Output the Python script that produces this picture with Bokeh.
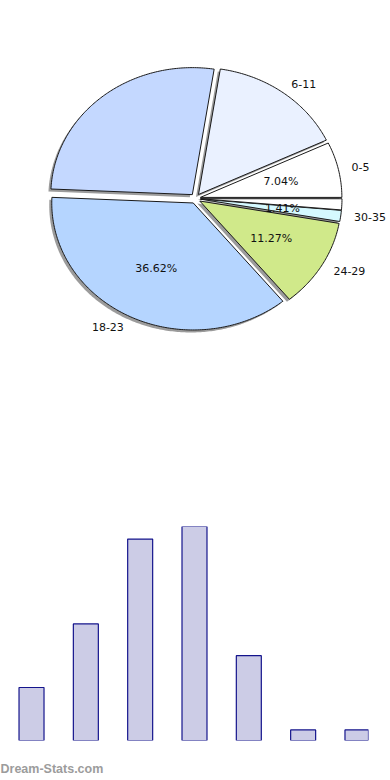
import numpy as np
from bokeh.plotting import figure
from bokeh.models import Range1d, Title, ColumnDataSource
from bokeh.embed import file_html
from bokeh.resources import INLINE
from bokeh.core.properties import value

# ---- data ----
categories = ["0-5", "6-11", "12-17", "18-23", "24-29", "30-35", "36-41"]
counts = [5, 11, 19, 26, 8, 1, 1]
slice_colors = ["#ffffff", "#eaf1ff", "#c4d8ff", "#b5d5ff", "#d0e98a", "#d5f9ff", "#ffffff"]
show_pct = [True, False, False, True, True, True, False]
show_name = [True, True, False, True, True, True, False]
watermark = "Dream-Stats.com"

# ---- pie geometry (computed from counts) ----
total = float(sum(counts))
fracs = np.array(counts) / total
ends = np.cumsum(fracs) * 2 * np.pi
starts = ends - fracs * 2 * np.pi
mids = (starts + ends) / 2

RX, RY = 141.5, 127.0
EXPLODE = 5.0
SH = 2.5

xs, ys, sxs, sys_ = [], [], [], []
for a0, a1, m in zip(starts, ends, mids):
    ox, oy = EXPLODE * np.cos(m), EXPLODE * np.sin(m)
    t = np.linspace(a0, a1, max(6, int((a1 - a0) * 80)))
    px = np.concatenate([[0.0], RX * np.cos(t), [0.0]]) + ox
    py = np.concatenate([[0.0], RY * np.sin(t), [0.0]]) + oy
    xs.append(list(px)); ys.append(list(py))
    sxs.append(list(px - SH)); sys_.append(list(py - SH))

p1 = figure(width=390, height=430, x_range=Range1d(-195, 195), y_range=Range1d(-232, 198),
            output_backend="svg", toolbar_location=None,
            min_border_left=0, min_border_right=0, min_border_top=0, min_border_bottom=0,
            x_axis_location=None, y_axis_location=None)
p1.grid.visible = False
p1.outline_line_color = None

p1.patches(xs=sxs, ys=sys_, fill_color="#8a8a8a", fill_alpha=0.85, line_color=None)
p1.patches(xs=xs, ys=ys, fill_color=slice_colors, line_color="#1a1a1a", line_width=1)

pct_src = ColumnDataSource(dict(
    x=[0.62 * RX * np.cos(m) for m, s in zip(mids, show_pct) if s],
    y=[0.62 * RY * np.sin(m) for m, s in zip(mids, show_pct) if s],
    t=["%.2f%%" % (100 * f) for f, s in zip(fracs, show_pct) if s],
))
p1.text(x="x", y="y", text="t", source=pct_src, text_font=value("DejaVu Sans"),
        text_font_size="11px", text_color="#111111", text_align="center", text_baseline="middle")

name_src = ColumnDataSource(dict(
    x=[1.13 * RX * np.cos(m) for m, s in zip(mids, show_name) if s],
    y=[1.13 * RY * np.sin(m) for m, s in zip(mids, show_name) if s],
    t=[c for c, s in zip(categories, show_name) if s],
    a=["left" if np.cos(m) >= 0 else "right" for m, s in zip(mids, show_name) if s],
))
p1.text(x="x", y="y", text="t", source=name_src, text_font=value("DejaVu Sans"),
        text_font_size="11px", text_color="#111111", text_align="a", text_baseline="middle")

# ---- bar chart ----
p2 = figure(width=390, height=350, x_range=Range1d(-0.571, 6.203), y_range=Range1d(0, 20.19),
            output_backend="svg", toolbar_location=None,
            min_border_left=0, min_border_right=22, min_border_top=96, min_border_bottom=40,
            x_axis_location=None, y_axis_location=None)
p2.grid.visible = False
p2.outline_line_color = None
p2.vbar(x=list(range(len(counts))), top=counts, bottom=0, width=0.46,
        fill_color="#cccce6", line_color="#14148c", line_width=1.2)

# spacer line under the frame, then the watermark
p2.add_layout(Title(text=" ", align="left", vertical_align="bottom", offset=0, standoff=0,
                    text_font_size="16px"), "below")
p2.add_layout(Title(text=watermark, align="left", vertical_align="bottom", offset=0, standoff=0,
                    text_font="Liberation Sans", text_font_size="12.5px", text_font_style="bold",
                    text_color="#9c9c9c"), "below")

open("out.html", "w").write(file_html([p1, p2], INLINE))
